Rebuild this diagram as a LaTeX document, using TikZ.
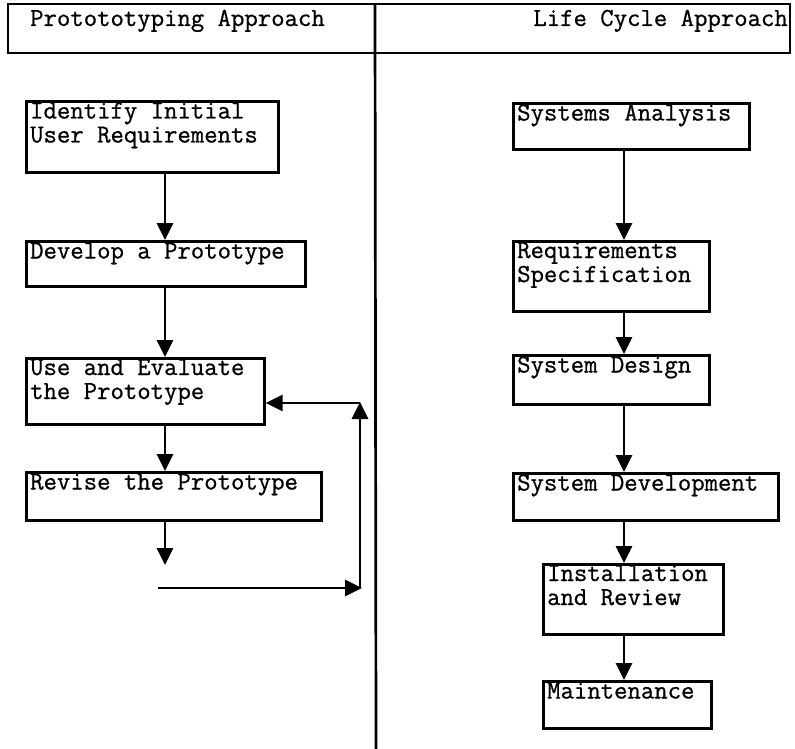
\documentclass[tikz,border=0pt]{standalone}
\usepackage{fontspec}
\newfontfamily\typer{Latin Modern Mono}[FakeBold=0.8]
\usetikzlibrary{arrows.meta,calc}
\begin{document}
\begin{tikzpicture}[x=1pt,y=-1pt,
  frame/.style={line width=2.7pt},
  stepbox/.style={draw,line width=2.7pt,rectangle,anchor=north west,inner sep=0pt},
  txt/.style={font=\typer\fontsize{26}{24}\selectfont,inner sep=0pt,align=left,anchor=base west},
  arr/.style={line width=2.7pt,-{Triangle[length=17pt,width=16pt]}}]
\useasboundingbox (0,0) rectangle (795,749);

% header band and column divider
\draw[frame] (8,4) rectangle (790,53);
\draw[frame] (375,4) -- (376,749);
\node[txt] (hl) at (30,26) {Protototyping Approach};
\node[txt,anchor=base east] (hr) at (788,26) {Life Cycle Approach};

% prototyping column
\node[stepbox,minimum width=252pt,minimum height=71pt] (b1) at (25,100) {};
\node[stepbox,minimum width=279pt,minimum height=45pt] (b2) at (25,240) {};
\node[stepbox,minimum width=238pt,minimum height=66pt] (b3) at (25,357) {};
\node[stepbox,minimum width=295pt,minimum height=48pt] (b4) at (25,471) {};
% two-line labels: the base anchor sits on the last line
\node[txt] (t1) at ($(b1.north west)+(5,42.5)$) {Identify Initial\\User Requirements};
\node[txt] (t2) at ($(b2.north west)+(5,18.5)$) {Develop a Prototype};
\node[txt] (t3) at ($(b3.north west)+(5,42)$) {Use and Evaluate\\the Prototype};
\node[txt] (t4) at ($(b4.north west)+(5,18.5)$) {Revise the Prototype};

\coordinate (axl) at (165,0);
\coordinate (e4) at (165,565);
\coordinate (c1) at (158,588);
\coordinate (c2) at (362,588);
\coordinate (c3) at (360,588);
\coordinate (c4) at (360,402);
\coordinate (c5) at (360,403);
\draw[arr] (b1.south -| axl) -- (b2.north -| axl);
\draw[arr] (b2.south -| axl) -- (b3.north -| axl);
\draw[arr] (b3.south -| axl) -- (b4.north -| axl);
\draw[arr] (b4.south -| axl) -- (e4);
\draw[arr] (c1) -- (c2);
\draw[arr] (c3) -- (c4);
\draw[arr] (c5) -- (b3.east |- c5);

% life cycle column
\node[stepbox,minimum width=236pt,minimum height=46pt] (r1) at (512,102) {};
\node[stepbox,minimum width=196pt,minimum height=70pt] (r2) at (512,240) {};
\node[stepbox,minimum width=196pt,minimum height=49pt] (r3) at (512,354) {};
\node[stepbox,minimum width=265pt,minimum height=47pt] (r4) at (512,472) {};
\node[stepbox,minimum width=180pt,minimum height=70pt] (r5) at (542,563) {};
\node[stepbox,minimum width=168pt,minimum height=47pt] (r6) at (542,680) {};
\node[txt] (s1) at ($(r1.north west)+(5,18.5)$) {Systems Analysis};
\node[txt] (s2) at ($(r2.north west)+(5,42)$) {Requirements\\Specification};
\node[txt] (s3) at ($(r3.north west)+(5,18.5)$) {System Design};
\node[txt] (s4) at ($(r4.north west)+(5,18.5)$) {System Development};
\node[txt] (s5) at ($(r5.north west)+(5,42)$) {Installation\\and Review};
\node[txt] (s6) at ($(r6.north west)+(5,18.5)$) {Maintenance};

\coordinate (axr) at (624,0);
\draw[arr] (r1.south -| axr) -- (r2.north -| axr);
\draw[arr] (r2.south -| axr) -- (r3.north -| axr);
\draw[arr] (r3.south -| axr) -- (r4.north -| axr);
\draw[arr] (r4.south -| axr) -- (r5.north -| axr);
\draw[arr] (r5.south -| axr) -- (r6.north -| axr);
\end{tikzpicture}
\end{document}
